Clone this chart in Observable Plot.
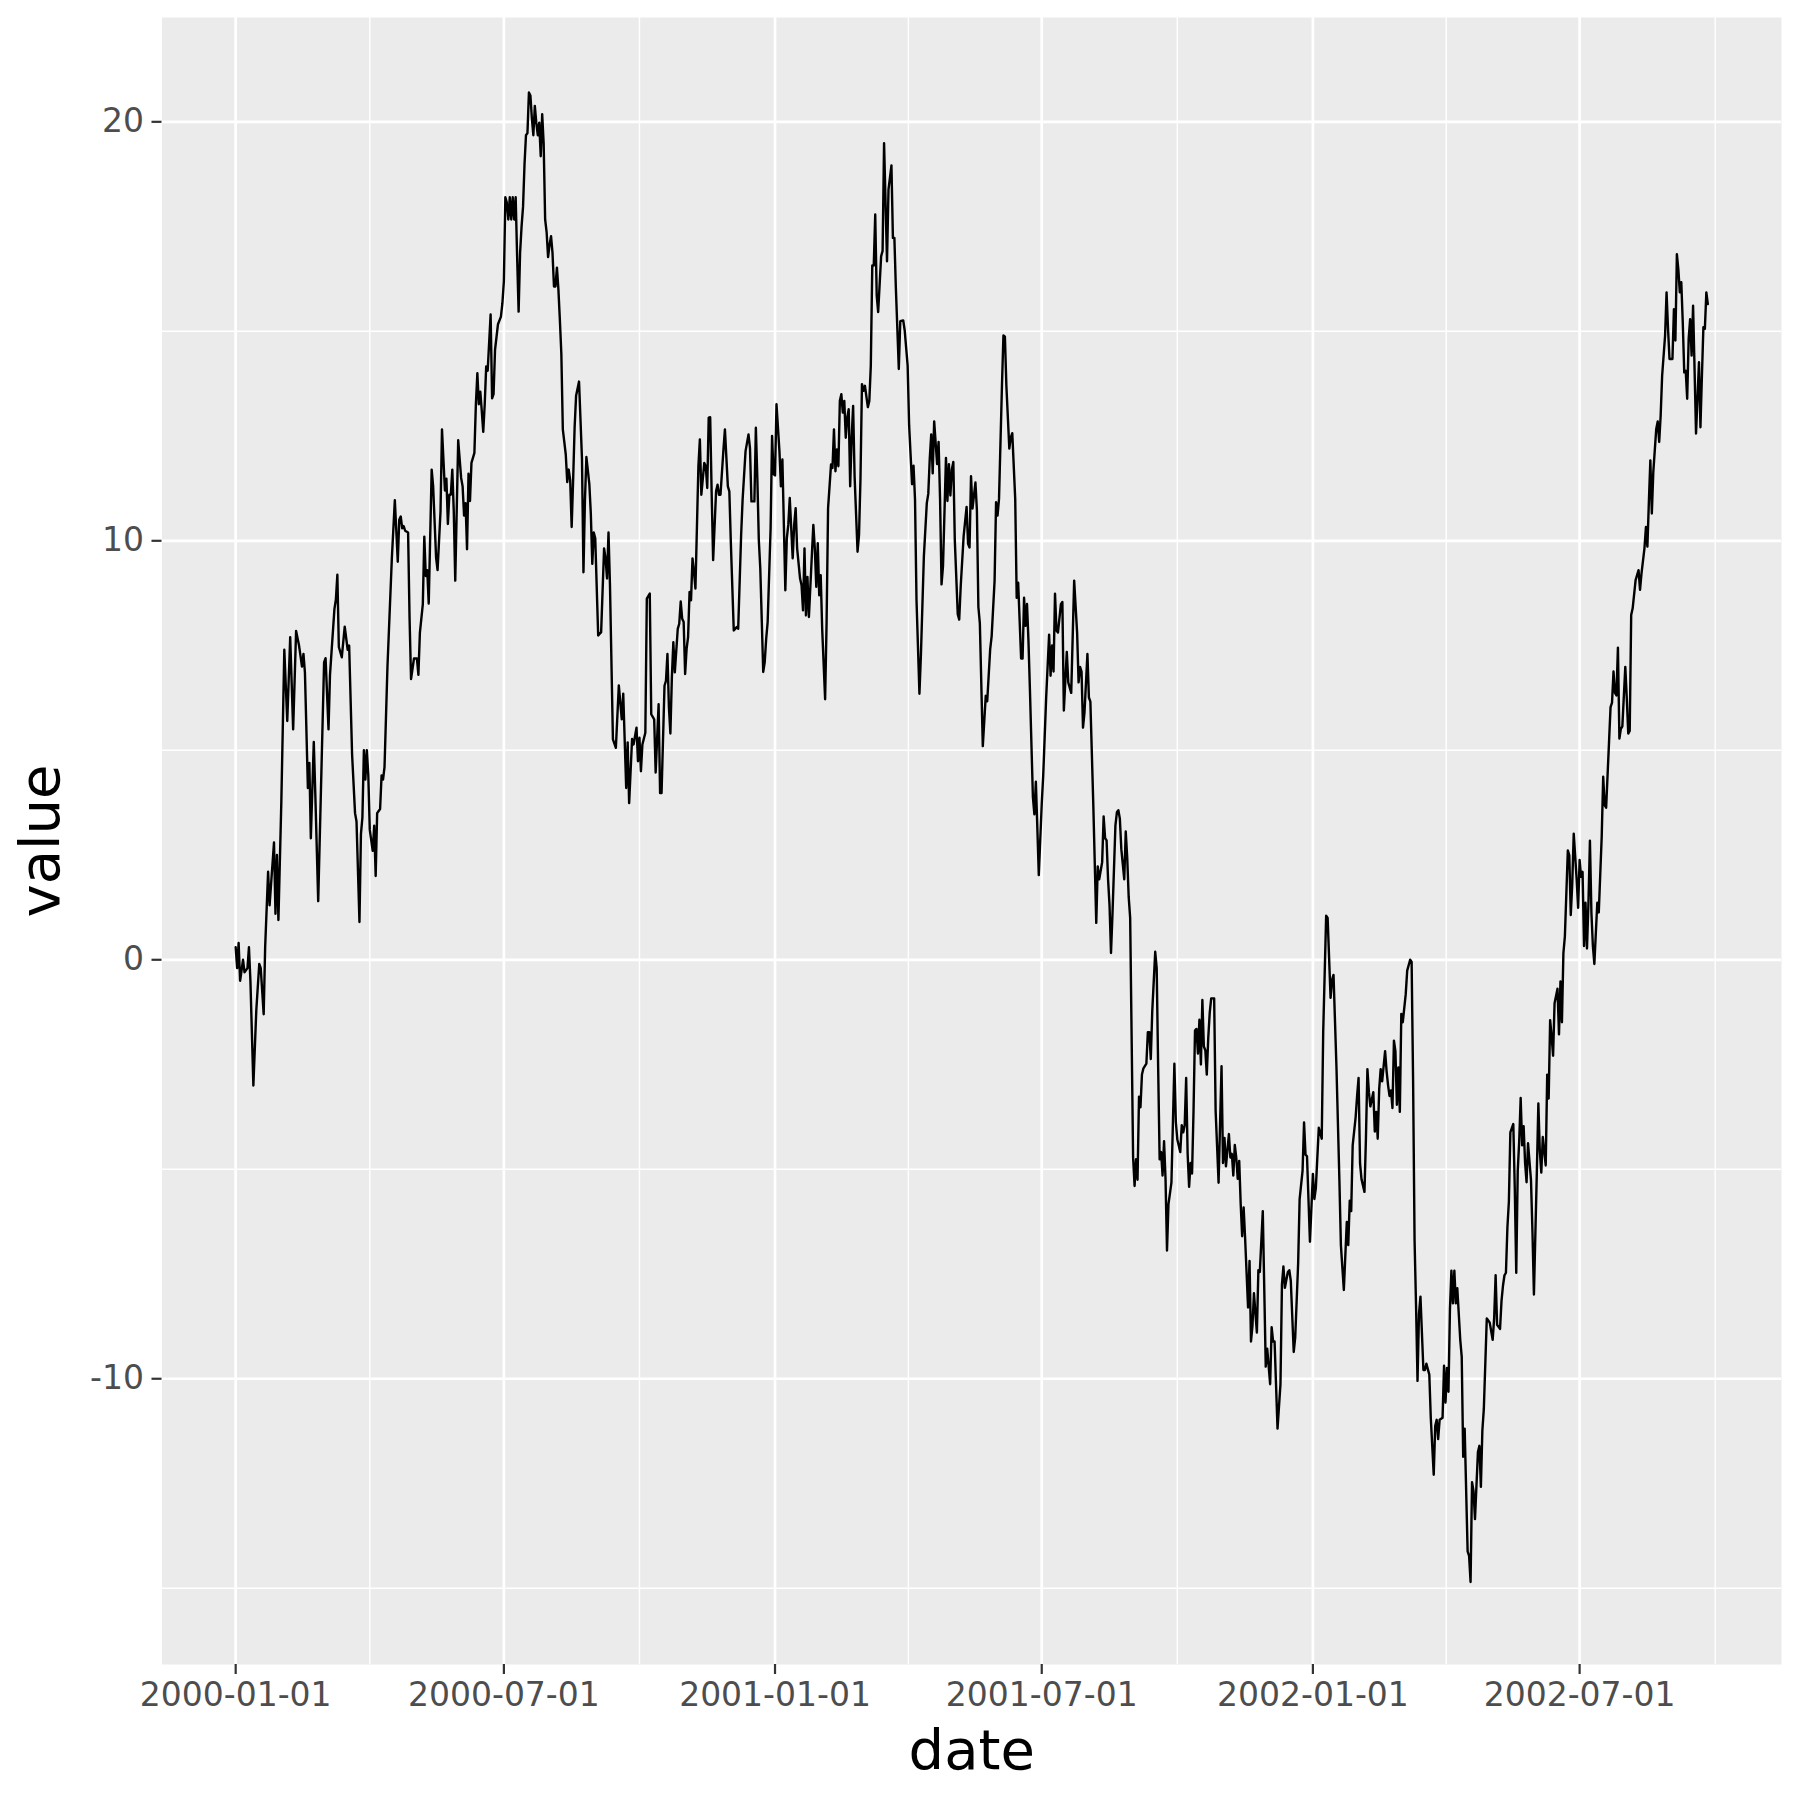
<!DOCTYPE html>
<html>
<head>
<meta charset="utf-8">
<script src="https://cdn.jsdelivr.net/npm/d3@7"></script>
<script src="https://cdn.jsdelivr.net/npm/@observablehq/plot@0.6"></script>
<style>
  html, body { margin: 0; padding: 0; background: white; }
  #chart svg { display: block; }
</style>
</head>
<body>
<div id="chart"></div>
<script>
// Day offsets from 2000-01-01 and the values
const startDate = "2000-01-01";
const dayOffsets = [
  0,1,2,3,5,6,8,9,10,12,14,16,17,19,20,22,23,26,27,28,29,31,33,35,37,39,41,43,45,46,47,49,50,51,53,54,56,60,61,63,64,
  67,68,69,70,72,74,76,77,79,81,82,84,85,86,87,88,89,90,91,93,94,95,96,98,99,100,101,103,106,108,110,111,112,113,114,115,117,118,119,121,123,124,125,127,128,129,130,131,133,134,136,137,139,140,142,143,144,145,146,147,148,149,151,153,154,
  155,156,157,158,159,160,162,163,164,165,166,167,168,169,170,171,173,174,175,176,178,180,181,182,183,184,185,186,187,188,189,190,191,192,193,194,195,196,197,198,199,200,201,202,203,204,205,206,207,208,209,210,211,212,213,214,215,216,217,218,219,220,221,222,223,224,225,226,227,228,229,230,231,233,235,236,237,238,240,241,242,243,
  244,246,248,250,251,252,253,254,256,258,260,262,263,265,266,267,269,270,272,273,274,275,276,278,279,281,282,284,285,287,288,289,291,292,293,294,295,296,297,298,300,301,302,303,304,305,306,307,308,309,310,311,312,314,315,316,318,319,320,321,322,323,324,326,327,328,329,331,332,334,335,
  336,338,340,341,343,344,346,348,349,350,352,353,354,355,356,358,359,360,361,363,364,365,366,367,369,370,371,373,374,375,376,378,379,380,381,383,384,385,386,387,388,389,391,392,393,394,395,396,397,398,400,401,402,404,405,406,407,408,409,410,411,412,413,414,415,416,417,418,419,420,422,423,424,425,426,427,
  429,430,431,432,433,434,435,436,438,439,440,442,443,445,446,447,448,450,451,453,454,456,457,458,459,460,461,462,464,465,467,469,470,471,472,473,474,476,477,478,479,480,482,483,484,485,486,487,488,490,491,492,494,496,497,498,499,500,502,503,504,505,507,509,510,512,513,515,516,517,518,520,
  521,522,523,525,526,527,529,530,531,533,534,535,536,537,538,539,541,542,543,544,545,547,548,550,552,553,554,555,556,557,558,560,561,562,564,565,567,569,571,572,573,574,575,576,578,579,580,582,584,585,586,588,589,590,591,592,593,594,595,597,598,599,600,601,603,604,605,606,607,
  609,610,611,612,613,614,615,616,618,619,620,621,622,624,625,626,627,628,629,630,631,632,633,635,637,638,639,641,642,643,644,645,646,647,648,649,650,651,652,653,654,655,656,657,658,659,660,661,662,664,665,667,669,670,671,672,674,675,676,677,678,679,680,681,682,683,684,685,687,688,689,690,691,693,694,695,697,699,
  700,702,703,704,705,707,709,710,711,712,714,715,716,718,719,721,722,724,725,726,727,729,731,732,733,735,737,738,740,741,743,744,745,747,749,750,752,754,755,756,757,758,760,761,762,763,764,766,767,768,769,770,772,773,774,775,776,777,778,780,781,782,783,784,785,786,787,788,789,790,791,792,794,795,797,798,
  799,800,801,802,803,804,806,807,808,810,811,813,814,815,816,817,819,820,821,822,823,824,825,826,827,828,829,831,832,833,834,836,837,838,839,840,841,843,844,845,846,847,849,850,851,853,854,855,856,858,859,860,861,862,863,864,865,866,867,868,869,870,871,872,873,874,875,876,877,879,880,881,
  883,884,885,886,887,888,889,890,891,892,893,894,895,897,898,899,900,901,902,904,905,906,907,908,910,911,912,913,914,915,916,917,918,919,920,921,922,924,925,927,928,929,930,932,933,934,935,936,937,938,939,940,941,943,944,945,946,
  947,948,950,952,953,954,956,957,958,959,960,961,962,964,965,966,967,968,970,971,972,973,975,976,977,978,979,980,981,982,983,984,985,986,987,988,989,990,991,993,994,995,996,997,998,999
];
const values = [
  0.3,-0.2,0.4,-0.5,0.0,-0.3,-0.2,0.3,-0.5,-3.0,-1.2,-0.1,-0.2,-1.3,0.3,2.1,1.3,2.8,1.1,2.5,0.95,3.8,7.4,5.7,7.7,5.5,7.85,7.5,7.0,7.3,6.85,4.1,4.7,2.9,5.2,4.0,1.4,7.1,7.2,5.5,6.8,
  8.37,8.6,9.19,7.47,7.22,7.95,7.4,7.5,4.9,3.5,3.3,0.9,3.0,3.4,5.0,4.3,5.0,4.4,3.1,2.6,3.2,2.0,3.5,3.6,4.4,4.3,4.6,7.0,9.6,10.97,9.5,10.5,10.58,10.3,10.35,10.24,10.2,8.15,6.7,7.19,7.19,6.8,7.8,8.49,10.1,9.16,9.3,8.5,11.7,11.3,9.6,9.3,10.7,12.66,11.2,11.48,10.4,11.1,11.1,11.7,10.7,9.05,12.4,11.5,11.3,
  10.6,10.9,9.8,11.6,10.95,11.86,12.1,13.26,14.0,13.26,13.56,13.1,12.6,13.26,14.16,14.06,15.4,13.4,13.5,14.56,15.17,15.35,15.67,16.2,18.2,18.07,17.67,18.2,17.67,18.2,17.67,18.2,16.77,15.47,16.87,17.5,17.97,18.98,19.68,19.73,20.7,20.63,20.08,19.68,20.38,19.98,19.68,19.98,19.18,20.18,19.48,17.67,17.37,16.77,17.07,17.27,16.87,16.07,16.07,16.52,16.0,15.27,14.46,12.66,12.36,12.06,11.4,11.7,11.45,10.33,11.45,12.7,13.46,13.8,11.96,9.25,10.95,12.0,11.35,10.65,9.45,10.2,
  10.06,7.74,7.82,9.82,9.58,9.1,10.2,8.94,5.26,5.06,6.55,5.74,6.35,4.1,5.19,3.74,5.27,5.14,5.54,4.74,5.3,4.5,5.14,5.42,8.62,8.74,5.86,5.74,4.47,6.1,3.98,3.98,6.54,6.66,7.3,6.02,5.4,6.74,7.58,6.86,7.9,8.02,8.55,8.14,8.06,6.82,7.42,7.7,8.78,8.58,9.58,9.26,8.86,11.78,12.42,11.1,11.86,11.78,11.26,12.94,12.95,11.14,9.54,11.18,11.34,11.1,11.1,12.18,12.66,11.3,11.18,
  9.98,7.86,7.94,7.9,10.14,10.98,12.14,12.54,12.22,10.94,10.94,12.7,11.5,10.02,9.34,6.87,7.1,7.66,8.06,10.3,12.5,11.59,11.56,13.26,12.14,11.3,11.94,8.82,10.06,10.38,11.02,9.58,10.38,10.78,9.82,9.1,8.94,8.34,9.82,8.22,9.14,8.18,9.66,10.38,9.82,8.9,9.94,8.7,9.18,7.9,6.22,8.06,10.78,11.82,11.74,12.66,11.66,12.18,11.78,13.34,13.5,13.06,13.34,12.46,12.94,13.14,11.3,12.46,13.22,11.54,9.74,10.14,11.5,13.74,13.58,13.7,
  13.19,13.34,14.18,16.57,16.57,17.79,15.86,15.46,16.79,16.92,19.49,16.67,18.38,18.96,17.23,17.23,16.04,14.1,15.24,15.26,15.02,14.18,12.76,12.05,11.35,11.79,10.99,8.6,6.35,7.27,9.62,10.9,11.12,11.96,12.54,11.61,12.85,11.83,12.36,10.99,8.96,9.4,11.98,10.95,11.83,11.08,11.7,11.88,10.02,8.25,8.12,8.91,10.11,10.81,9.93,9.84,11.54,10.77,11.39,10.73,8.42,8.03,5.1,6.3,6.17,7.41,7.72,9.05,10.92,10.6,11.0,13.7,
  14.9,14.87,13.7,12.2,12.47,12.57,11.0,8.64,9.0,7.19,7.19,8.64,7.97,8.49,7.6,6.42,3.88,3.47,4.25,3.16,2.02,3.73,4.4,6.26,7.76,6.78,7.5,6.88,8.74,7.86,7.81,8.49,8.54,5.95,7.35,6.62,6.37,9.05,7.81,6.62,6.99,6.88,5.54,5.9,7.3,6.26,6.16,3.68,0.88,2.23,1.92,2.33,3.42,2.9,2.85,1.92,1.3,0.16,1.09,3.21,3.52,3.57,3.37,2.64,1.92,3.06,2.44,1.5,1.0,
  -4.72,-5.4,-4.76,-5.25,-3.27,-3.52,-2.74,-2.59,-2.48,-1.73,-1.73,-2.37,-1.22,0.19,-0.2,-2.59,-4.76,-4.59,-5.15,-4.33,-5.23,-6.94,-5.83,-5.32,-2.48,-3.87,-4.29,-4.59,-3.95,-4.12,-3.95,-2.82,-4.63,-5.42,-4.85,-5.1,-3.61,-1.69,-1.65,-2.24,-1.43,-2.5,-0.96,-2.07,-2.16,-2.74,-1.86,-1.26,-0.92,-0.92,-3.61,-5.32,-2.54,-4.85,-4.25,-4.93,-4.16,-4.72,-4.63,-5.15,-4.42,-4.72,-5.23,-4.8,-5.83,-6.6,-5.91,-6.64,-8.3,-7.19,-9.11,-8.73,-7.96,-8.9,-7.41,-7.45,-6.0,-9.71,
  -9.28,-10.13,-8.77,-9.11,-9.11,-11.19,-10.13,-7.75,-7.32,-7.83,-7.45,-7.41,-7.66,-9.36,-9.02,-7.24,-5.71,-5.03,-3.88,-4.65,-4.69,-6.73,-5.11,-5.71,-5.45,-4.01,-4.27,-1.72,1.05,1.0,-0.91,-0.48,-0.36,-2.57,-5.28,-6.81,-7.88,-6.26,-6.81,-5.75,-6.0,-4.43,-3.76,-3.25,-2.82,-4.86,-5.24,-5.54,-4.26,-2.61,-3.16,-3.5,-3.16,-4.1,-3.63,-4.27,-3.08,-2.61,-2.9,-2.18,-2.65,-2.99,-3.25,-3.12,-3.54,-1.93,-2.18,-3.46,-2.57,-3.63,-1.29,-1.49,-0.82,-0.26,0.0,-0.05,
  -2.89,-6.7,-8.25,-10.05,-8.45,-8.04,-9.79,-9.79,-9.64,-9.9,-10.93,-12.29,-11.13,-10.98,-11.44,-10.98,-10.93,-9.69,-10.57,-9.74,-10.31,-8.35,-7.42,-8.2,-7.42,-8.2,-7.84,-9.07,-9.48,-11.86,-11.19,-14.12,-14.23,-14.85,-12.47,-12.68,-13.35,-11.75,-11.6,-12.58,-11.24,-10.72,-8.56,-8.61,-8.66,-9.07,-8.56,-7.53,-8.71,-8.81,-8.14,-7.78,-7.53,-7.47,-6.39,-5.77,-4.12,-4.02,-3.92,-5.46,-7.47,-5.05,-4.33,-3.3,-4.43,-3.97,-4.85,-5.31,-4.38,-5.26,-6.49,-7.99,
  -5.02,-3.43,-4.57,-5.08,-4.23,-4.57,-4.91,-2.74,-3.31,-1.44,-1.83,-2.29,-1.04,-0.69,-1.78,-0.52,-1.49,0.16,0.56,2.61,2.49,1.07,1.81,3.01,1.92,1.24,2.38,1.98,2.1,0.33,1.36,0.27,1.36,2.84,1.13,0.33,-0.1,1.36,1.13,2.95,4.37,3.69,3.63,5.23,6.03,6.14,6.88,6.37,6.31,7.45,5.28,5.51,5.57,6.99,6.25,5.4,5.46,
  8.23,8.39,9.06,9.3,8.83,9.22,9.82,10.33,9.86,10.93,11.92,10.65,11.64,12.67,12.85,12.36,12.99,13.94,14.9,15.93,15.06,14.34,14.34,15.53,14.78,16.84,16.48,15.93,16.17,15.21,14.02,14.06,13.39,14.82,15.29,14.42,15.61,14.1,12.56,14.26,12.71,13.94,15.1,15.06,15.93,15.65
];

// Axis breaks (ggplot defaults for this range)
const xBreaks = ["2000-01-01","2000-07-01","2001-01-01","2001-07-01","2002-01-01","2002-07-01"];
const xMinorBreaks = ["2000-04-01","2000-10-01","2001-04-01T12:00","2001-10-01","2002-04-01T12:00","2002-10-01"];
const yBreaks = [-10, 0, 10, 20];
const yMinorBreaks = [-15, -5, 5, 15];
const yDomain = [-16.82, 22.49];
const xPadDays = [-50, 1049];

const DAY = 864e5;
const t0 = Date.parse(startDate + "T00:00:00Z");
const data = dayOffsets.map((d, i) => ({date: new Date(t0 + d * DAY), value: values[i]}));
const parse = s => new Date(Date.parse(s.length > 10 ? s + ":00Z" : s + "T00:00:00Z"));
const xMajor = xBreaks.map(parse);
const xMinor = xMinorBreaks.map(parse);

const chart = Plot.plot({
  width: 1800,
  height: 1800,
  marginLeft: 161.5,
  marginRight: 19,
  marginTop: 17,
  marginBottom: 136,
  style: {fontFamily: "DejaVu Sans", background: "white", overflow: "visible"},
  x: {type: "utc", domain: [new Date(t0 + xPadDays[0] * DAY), new Date(t0 + xPadDays[1] * DAY)]},
  y: {domain: yDomain},
  marks: [
    Plot.frame({fill: "#EBEBEB", stroke: null}),
    Plot.ruleX(xMinor, {stroke: "white", strokeWidth: 1.4}),
    Plot.ruleY(yMinorBreaks, {stroke: "white", strokeWidth: 1.4}),
    Plot.ruleX(xMajor, {stroke: "white", strokeWidth: 2.7}),
    Plot.ruleY(yBreaks, {stroke: "white", strokeWidth: 2.7}),
    Plot.line(data, {x: "date", y: "value", stroke: "black", strokeWidth: 2.4}),
    Plot.axisX(xMajor, {
      tickFormat: d3.utcFormat("%Y-%m-%d"),
      tickSize: 10, tickPadding: 8, fontSize: 33,
      stroke: "#333333", strokeWidth: 2.2, fill: "#4D4D4D", label: null
    }),
    Plot.axisY(yBreaks, {
      tickFormat: d => String(d),
      tickSize: 10, tickPadding: 8, fontSize: 33,
      stroke: "#333333", strokeWidth: 2.2, fill: "#4D4D4D", label: null
    }),
    Plot.text(["date"], {frameAnchor: "bottom", textAnchor: "middle", lineAnchor: "middle", dy: 87, fontSize: 56, fill: "black"}),
    Plot.text(["value"], {frameAnchor: "left", textAnchor: "middle", lineAnchor: "middle", rotate: -90, dx: -120.5, fontSize: 56, fill: "black"})
  ]
});
document.getElementById("chart").appendChild(chart);
</script>
</body>
</html>
